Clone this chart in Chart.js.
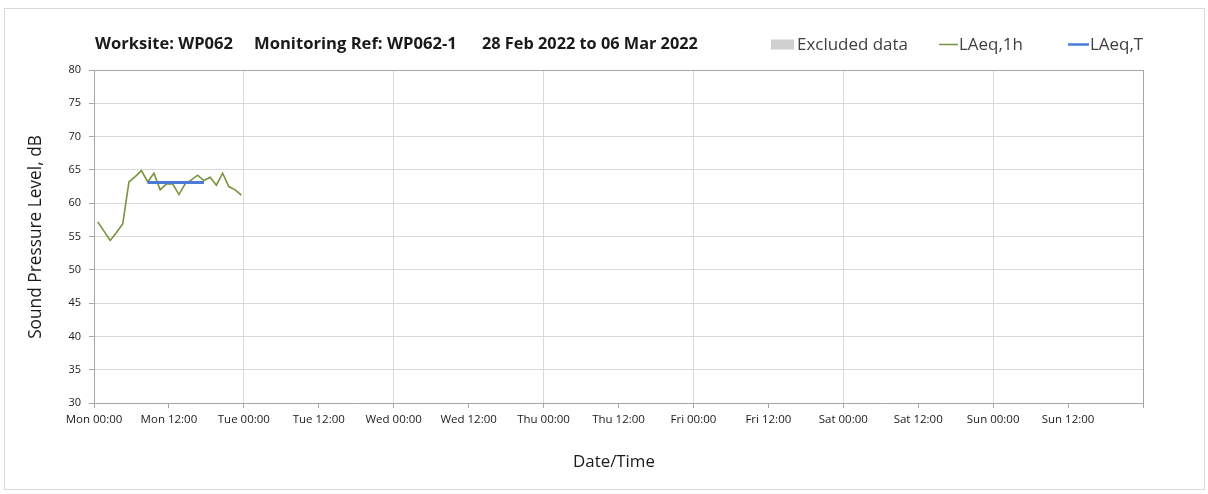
<!DOCTYPE html>
<html>
<head>
<meta charset="utf-8">
<script src="https://cdn.jsdelivr.net/npm/chart.js@4.4.1/dist/chart.umd.min.js"></script>
<style>
  html, body { margin: 0; padding: 0; background: #ffffff; }
  #wrap { width: 1208px; height: 494px; }
</style>
</head>
<body>
<div id="wrap"><canvas id="c" width="1208" height="494"></canvas></div>
<script>
// ---- Data ----
const titleParts = ["Worksite: WP062", "Monitoring Ref: WP062-1", "28 Feb 2022 to 06 Mar 2022"];
const xTickLabels = ["Mon 00:00", "Mon 12:00", "Tue 00:00", "Tue 12:00", "Wed 00:00", "Wed 12:00",
  "Thu 00:00", "Thu 12:00", "Fri 00:00", "Fri 12:00", "Sat 00:00", "Sat 12:00", "Sun 00:00", "Sun 12:00", ""];
// hours since Mon 00:00
const laeq1hHours = [0.6, 1.6, 2.6, 3.6, 4.6, 5.6, 6.6, 7.6, 8.6, 9.6, 10.6, 11.6,
  12.6, 13.6, 14.6, 15.6, 16.6, 17.6, 18.6, 19.6, 20.6, 21.6, 22.6, 23.6];
const laeq1hValues = [57.2, 55.8, 54.4, 55.6, 56.9, 63.2, 64.0, 64.9, 63.2, 64.5, 62.0, 62.9,
  62.9, 61.3, 62.9, 63.5, 64.2, 63.4, 63.9, 62.7, 64.5, 62.5, 62.0, 61.2];
const laeqTHours = [8.6, 17.6];
const laeqTValues = [63.1, 63.1];
const excludedHours = [];
const excludedValues = [];

const GREEN = '#77933c';
const BLUE = '#4a7bd6';
const GREY = '#d0d0d0';

function pts(xs, ys) { return xs.map((x, i) => ({ x: x, y: ys[i] })); }

function fitFont(ctx, text, target, weight, family, base) {
  ctx.font = weight + ' ' + base + 'px ' + family;
  const w = ctx.measureText(text).width;
  const size = base * target / w;
  return weight + ' ' + size.toFixed(2) + 'px ' + family;
}

const decor = {
  id: 'decor',
  beforeDraw(chart) {
    const ctx = chart.ctx;
    ctx.save();
    ctx.fillStyle = '#ffffff';
    ctx.fillRect(0, 0, chart.width, chart.height);
    ctx.strokeStyle = '#d9d9d9';
    ctx.lineWidth = 1;
    ctx.strokeRect(4.5, 8.5, 1200, 481);
    ctx.restore();
  },
  afterDraw(chart) {
    const ctx = chart.ctx;
    ctx.save();
    ctx.textBaseline = 'middle';
    ctx.textAlign = 'left';
    // Title
    ctx.fillStyle = '#1a1a1a';
    const tpos = [[95, 138], [254, 203], [482, 216]];
    titleParts.forEach((t, i) => {
      ctx.font = fitFont(ctx, t, tpos[i][1], 'bold', '"Open Sans", sans-serif', 14);
      ctx.fillText(t, tpos[i][0], 44);
    });
    // Legend
    const ds = chart.data.datasets;
    const legFont = fitFont(ctx, ds[2].label, 111, 'normal', '"Open Sans", sans-serif', 15);
    // Excluded data
    ctx.fillStyle = ds[2].backgroundColor;
    ctx.fillRect(771, 39.5, 23, 10);
    ctx.fillStyle = '#404040';
    ctx.font = legFont;
    ctx.fillText(ds[2].label, 797, 45);
    // LAeq,1h
    ctx.strokeStyle = ds[0].borderColor;
    ctx.lineWidth = 1.5;
    ctx.beginPath(); ctx.moveTo(939, 44.5); ctx.lineTo(958, 44.5); ctx.stroke();
    ctx.fillText(ds[0].label, 959, 45);
    // LAeq,T
    ctx.strokeStyle = ds[1].borderColor;
    ctx.lineWidth = 2.5;
    ctx.beginPath(); ctx.moveTo(1068, 44.5); ctx.lineTo(1089, 44.5); ctx.stroke();
    ctx.fillText(ds[1].label, 1090, 45);
    // Axis titles
    ctx.fillStyle = '#1a1a1a';
    ctx.textAlign = 'center';
    ctx.font = fitFont(ctx, 'Date/Time', 82, 'normal', '"Open Sans", sans-serif', 15);
    ctx.fillText('Date/Time', 614, 462);
    ctx.translate(36, 237);
    ctx.rotate(-Math.PI / 2);
    ctx.font = fitFont(ctx, 'Sound Pressure Level, dB', 204, 'normal', '"Open Sans", sans-serif', 15);
    ctx.fillText('Sound Pressure Level, dB', 0, 0);
    ctx.restore();
  }
};

const chart = new Chart(document.getElementById('c'), {
  type: 'line',
  data: {
    datasets: [
      { label: 'LAeq,1h', data: pts(laeq1hHours, laeq1hValues), borderColor: GREEN, backgroundColor: GREEN,
        borderWidth: 1.6, pointRadius: 0, tension: 0, order: 2 },
      { label: 'LAeq,T', data: pts(laeqTHours, laeqTValues), borderColor: BLUE, backgroundColor: BLUE,
        borderWidth: 3, pointRadius: 0, tension: 0, order: 1 },
      { label: 'Excluded data', data: pts(excludedHours, excludedValues), borderColor: GREY, backgroundColor: GREY,
        borderWidth: 0, pointRadius: 0, fill: false }
    ]
  },
  options: {
    responsive: false,
    animation: false,
    devicePixelRatio: 1,
    layout: { padding: { top: 70, right: 65, left: 0, bottom: 0 } },
    plugins: { legend: { display: false }, tooltip: { enabled: false }, title: { display: false } },
    scales: {
      x: {
        type: 'linear', min: 0, max: 168,
        afterFit(s) { s.height = 91; },
        afterBuildTicks(s) { s.ticks = xTickLabels.map((_, i) => ({ value: i * 12 })); },
        ticks: {
          autoSkip: false, maxRotation: 0, minRotation: 0, padding: 5,
          color: '#1a1a1a', font: { family: '"Open Sans", sans-serif', size: 11.5 },
          callback: (v) => xTickLabels[Math.round(v / 12)]
        },
        grid: {
          color: (c) => (c.tick && c.tick.value % 24 === 0) ? (c.tick.value === 168 ? '#a6a6a6' : '#d9d9d9') : 'rgba(0,0,0,0)',
          tickColor: '#a6a6a6', tickLength: 5, drawTicks: true
        },
        border: { color: '#a6a6a6', width: 1 }
      },
      y: {
        type: 'linear', min: 30, max: 80,
        afterFit(s) { s.width = 94; },
        ticks: { stepSize: 5, padding: 8, color: '#1a1a1a', font: { family: '"Open Sans", sans-serif', size: 11 } },
        grid: {
          color: (c) => (c.tick && c.tick.value === 80) ? '#a6a6a6' : '#d9d9d9',
          tickColor: '#a6a6a6', tickLength: 5
        },
        border: { color: '#a6a6a6', width: 1 }
      }
    }
  },
  plugins: [decor]
});
</script>
</body>
</html>
